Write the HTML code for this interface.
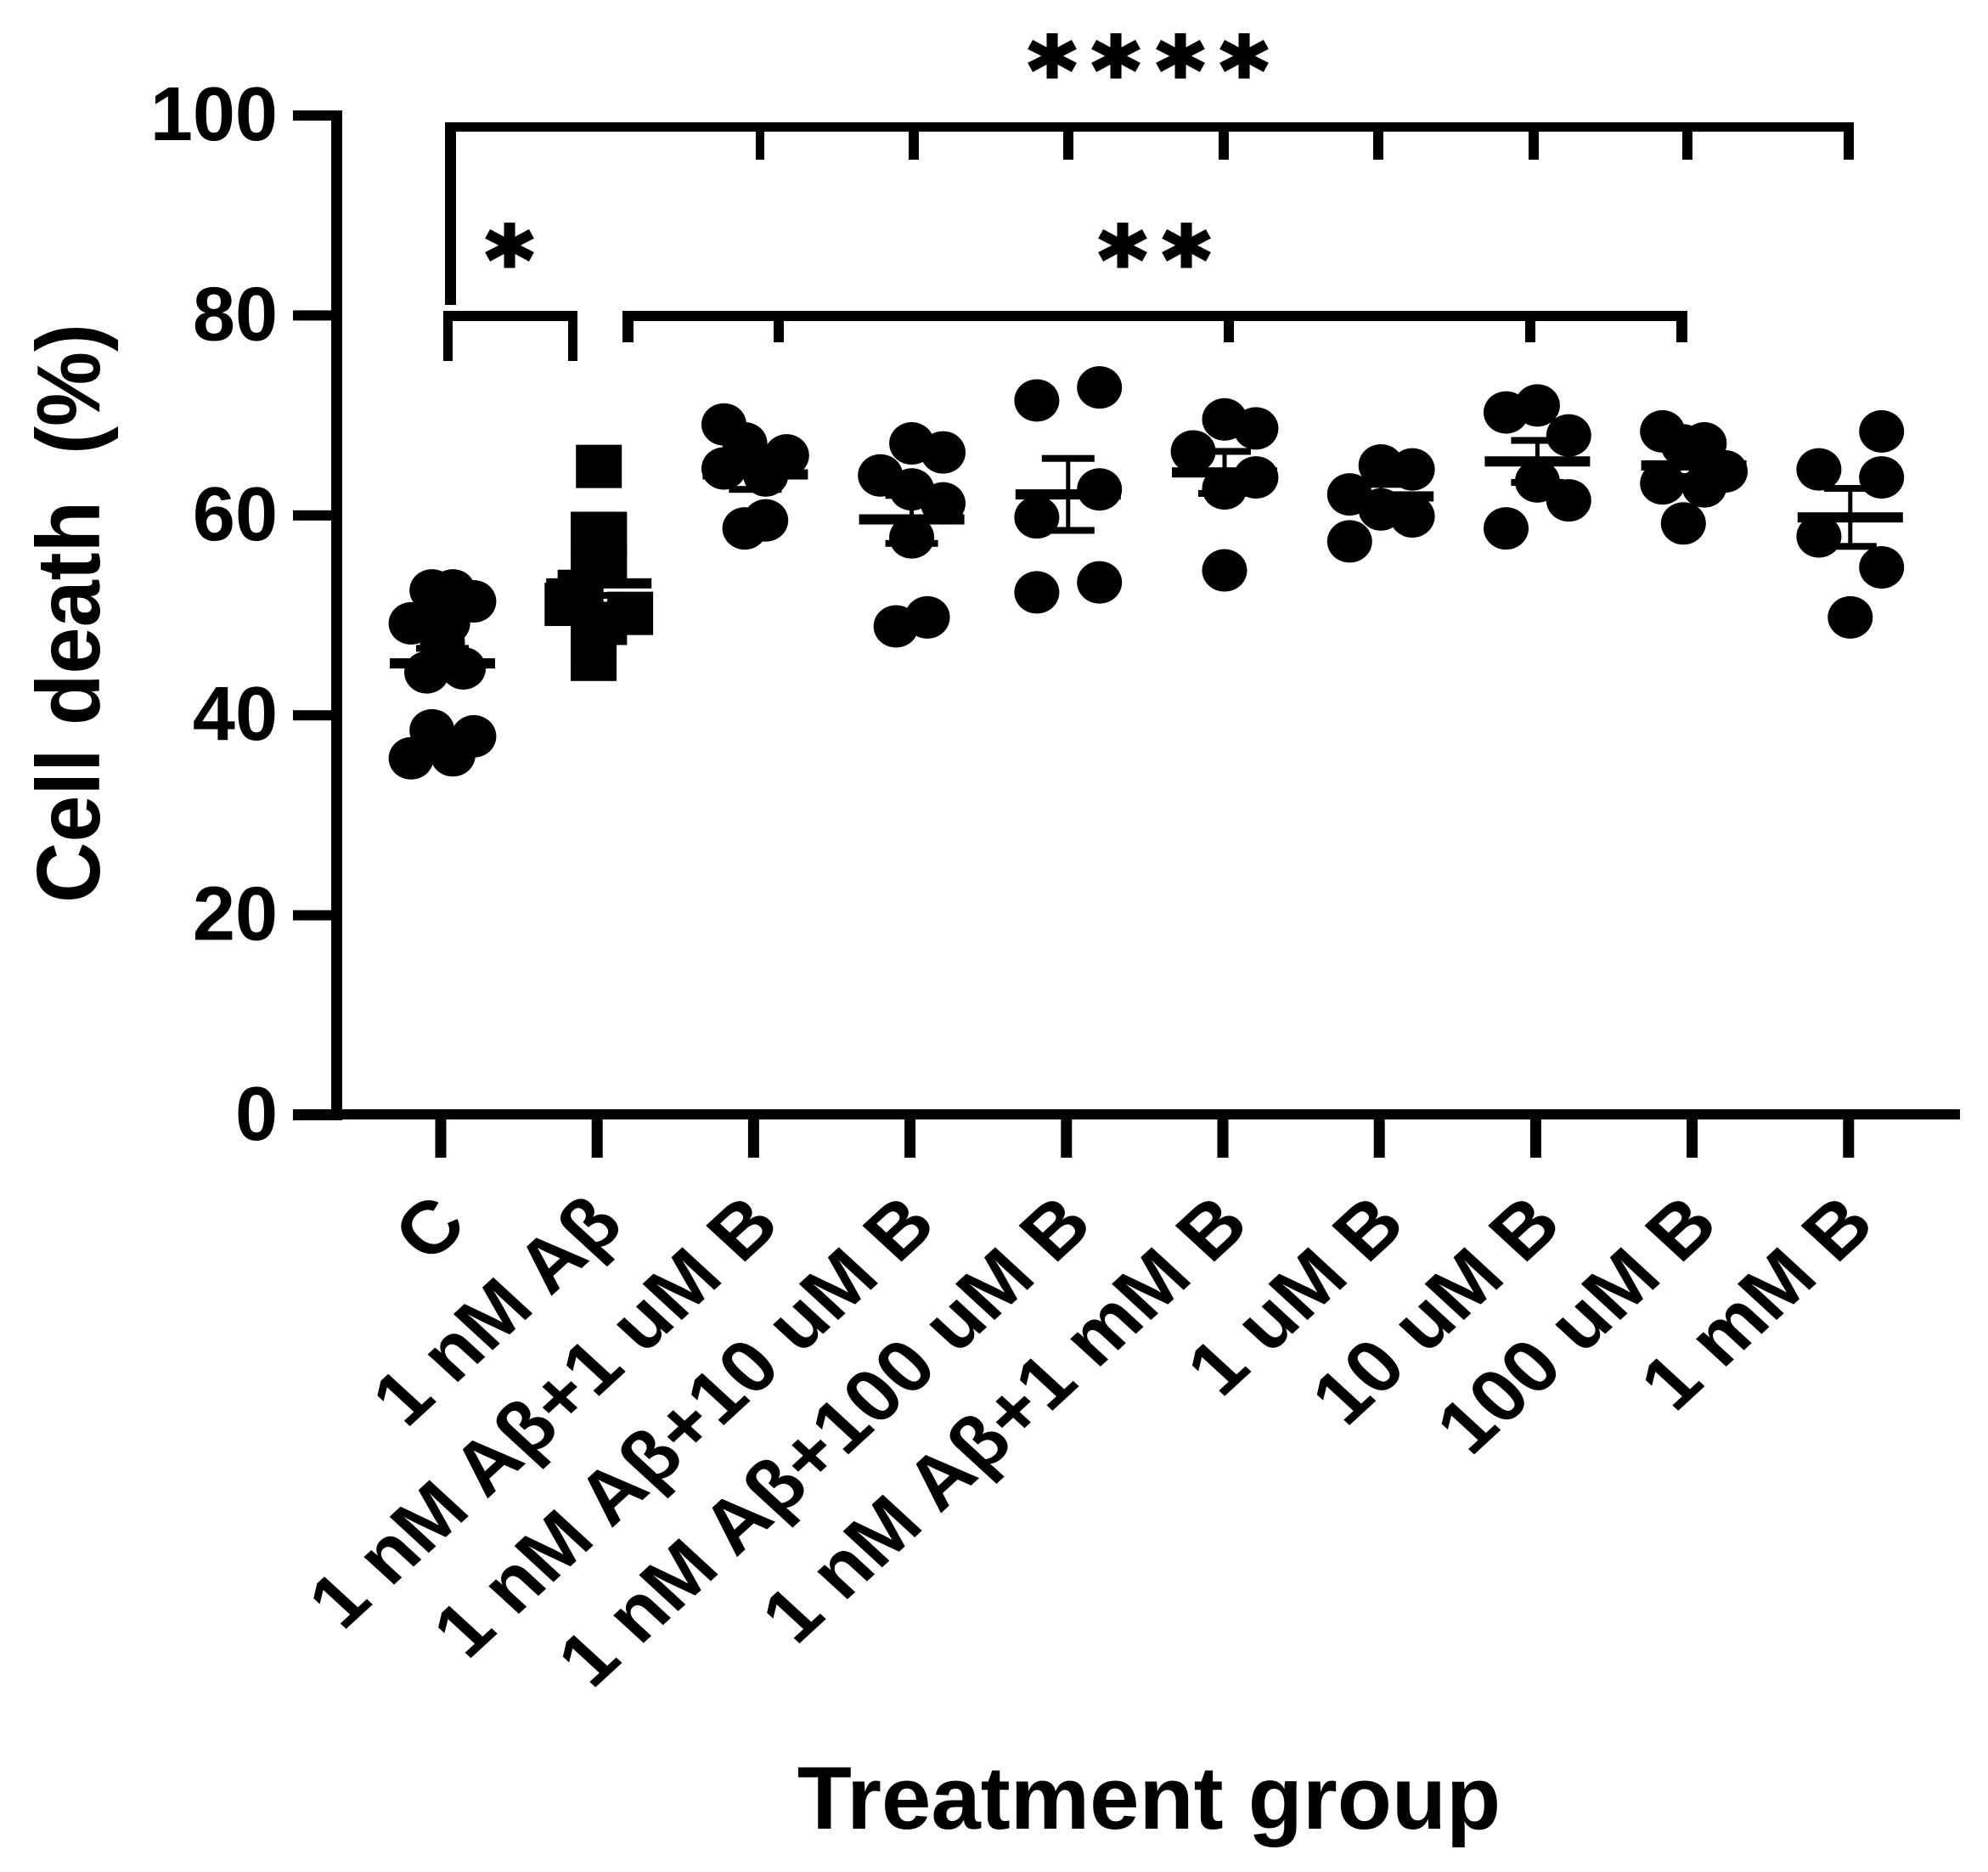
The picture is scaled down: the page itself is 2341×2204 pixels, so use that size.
<!DOCTYPE html>
<html lang="en">
<head>
<meta charset="utf-8">
<title>Cell death by treatment group</title>
<style>
html,body{margin:0;padding:0;background:#fff;width:2341px;height:2204px;overflow:hidden}
svg{display:block}
text{font-family:"Liberation Sans",Arial,sans-serif;font-weight:700;fill:#000}
.star{font-family:"DejaVu Sans",sans-serif;font-weight:700;font-size:106px;text-anchor:middle;stroke:#000;stroke-width:4px}
</style>
</head>
<body>
<svg id="chart" xmlns="http://www.w3.org/2000/svg" width="2341" height="2204" viewBox="0 0 2341 2204">
  <rect x="0" y="0" width="2341" height="2204" fill="#fff"/>
  <text transform="translate(117,722) rotate(-90) scale(1,1.07)" text-anchor="middle" font-size="99" xml:space="preserve" style="white-space:pre">Cell death  (%)</text>
  <text x="1353" y="2153" text-anchor="middle" font-size="105">Treatment group</text>

  <g fill="#000">
    <rect x="524" y="144" width="1659" height="11"/>
    <rect x="524" y="144" width="13" height="215"/>
    <rect x="890" y="150" width="10" height="38"/>
    <rect x="1070" y="150" width="12" height="38"/>
    <rect x="1252" y="150" width="12" height="38"/>
    <rect x="1435" y="150" width="12" height="38"/>
    <rect x="1617" y="150" width="12" height="38"/>
    <rect x="1800" y="150" width="12" height="38"/>
    <rect x="1981" y="150" width="12" height="38"/>
    <rect x="2171" y="144" width="12" height="44"/>
  </g>
  <g fill="#000">
    <rect x="522" y="366" width="158" height="12"/>
    <rect x="522" y="366" width="11" height="59"/>
    <rect x="669" y="366" width="11" height="59"/>
  </g>
  <g fill="#000">
    <rect x="733" y="366" width="1254" height="12"/>
    <rect x="733" y="366" width="13" height="37"/>
    <rect x="911" y="366" width="12" height="37"/>
    <rect x="1441" y="366" width="12" height="37"/>
    <rect x="1796" y="366" width="12" height="37"/>
    <rect x="1974" y="366" width="13" height="37"/>
  </g>
  <text class="star" transform="translate(600,343) scale(1.02,1)">*</text>
  <g>
    <text class="star" transform="translate(1322,343) scale(1.02,1)">*</text>
    <text class="star" transform="translate(1397,343) scale(1.02,1)">*</text>
  </g>
  <g>
    <text class="star" transform="translate(1239,120) scale(1.02,1)">*</text>
    <text class="star" transform="translate(1314,120) scale(1.02,1)">*</text>
    <text class="star" transform="translate(1390,120) scale(1.02,1)">*</text>
    <text class="star" transform="translate(1465,120) scale(1.02,1)">*</text>
  </g>

  <g id="axes"></g>
  <g id="marks"></g>
</svg>
<script>
const categories = ["C", "1 nM Aβ", "1 nM Aβ+1 uM B", "1 nM Aβ+10 uM B", "1 nM Aβ+100 uM B", "1 nM Aβ+1 mM B", "1 uM B", "10 uM B", "100 uM B", "1 mM B"];
const yTicks = [0, 20, 40, 60, 80, 100];

const valuesControl = [52.5, 52.5, 51.4, 49.2, 49.2, 47.3, 44.3, 44.7, 38.5, 37.9, 35.7, 36];
const slotsControl = [-2, 2, 6, -6, 1, 0, -3, 4, -2, 6, -6, 2];
const valuesAbeta = [64.9, 58.2, 58.2, 55, 55, 52.4, 51.1, 50.2, 49.2, 47.5, 45.6];
const slotsAbeta = [0, -1, 1, -1, 1, -3.5, -6, 6, 1, -1, -1];
const valuesAb1uM = [69.1, 67.2, 66, 64.7, 64, 59.5, 58.7];
const slotsAb1uM = [-6, -2, 6, -6, 2, 2, -2];
const valuesAb10uM = [67.2, 66.3, 64, 62.6, 61.2, 57.8, 49.8, 48.9];
const slotsAb10uM = [0, 6, -6, 0, 6, 0, 3, -3];
const valuesAb100uM = [71.5, 72.8, 62.6, 59.8, 52.3, 53.3];
const slotsAb100uM = [-6, 6, 6, -6, -6, 6];
const valuesAb1mM = [69.6, 68.7, 66.4, 63.8, 62.7, 54.5];
const slotsAb1mM = [0, 6, -6, 6, 0, 0];
const values1uM = [65, 64.6, 62.1, 60.6, 59.9, 57.4];
const slots1uM = [0, 6, -6, 0, 6, -6];
const values10uM = [70.3, 71, 68, 63.4, 61.5, 58.7];
const slots10uM = [-6, 0, 6, 0, 6, -6];
const values100uM = [68.4, 67.2, 67, 64.4, 63.2, 62.9, 59.2];
const slots100uM = [-6, 2, -2, 6, -6, 2, -2];
const values1mM = [68.4, 64.6, 63.8, 57.9, 54.8, 49.8];
const slots1mM = [6, -6, 6, -6, 6, 0];

const groupValues = [valuesControl, valuesAbeta, valuesAb1uM, valuesAb10uM, valuesAb100uM, valuesAb1mM, values1uM, values10uM, values100uM, values1mM];
const groupSlots = [slotsControl, slotsAbeta, slotsAb1uM, slotsAb10uM, slotsAb100uM, slotsAb1mM, slots1uM, slots10uM, slots100uM, slots1mM];
const means = [45.2, 53.2, 64.1, 59.6, 62.1, 64.3, 61.9, 65.4, 65, 59.8];
const sems = [1.5, 1.2, 1.5, 2.4, 3.6, 2.1, 1.2, 2.1, 1.1, 2.9];

const NS = "http://www.w3.org/2000/svg";
const xPos = i => 519 + 184.2 * i;
const markX = i => xPos(i) + 2;
const yPos = v => 1313 - (v / 100) * (1313 - 136);
const slotPx = s => s * 6.15;

function make(tag, attrs, parent) {
  const el = document.createElementNS(NS, tag);
  for (const k in attrs) el.setAttribute(k, attrs[k]);
  parent.appendChild(el);
  return el;
}

const axes = document.getElementById("axes");
const marks = document.getElementById("marks");

const yLine = make("rect", {x: 390, y: yPos(100) - 6, width: 13, height: yPos(0) - yPos(100) + 12, fill: "#000"}, axes);


const xLine = make("rect", {x: 345, y: yPos(0) - 7, width: 1963, height: 12, fill: "#000"}, axes);



yTicks.forEach(t => {
  const tick = make("rect", {x: 345, y: yPos(t) - 6, width: 50, height: 12, fill: "#000"}, axes);
  
  
  const label = make("text", {x: 327, y: yPos(t) + 29, "text-anchor": "end", "font-size": 90}, axes);
  
  
  label.textContent = t;
});

categories.forEach((c, i) => {
  const tick = make("rect", {x: xPos(i) - 6.5, y: yPos(0), width: 13, height: 50, fill: "#000"}, axes);
  
  
  const label = make("text", {
    transform: "translate(" + (xPos(i) + 34) + ",1445) scale(1,0.92) rotate(-45)",
    "text-anchor": "end",
    "font-size": 95
  }, axes);
  
  
  label.textContent = c;
});

groupValues.forEach((vals, g) => {
  const group = make("g", {}, marks);
  
  
  const cx = markX(g);
  vals.forEach((v, k) => {
    const px = cx + slotPx(groupSlots[g][k]);
    let mark;
    if (g === 1) {
      mark = make("rect", {x: px - 27, y: yPos(v) - 25.5, width: 54, height: 51, fill: "#000"}, group);
      
    } else {
      mark = make("ellipse", {cx: px, cy: yPos(v), rx: 26.5, ry: 25, fill: "#000"}, group);
      
    }
    
  });
  const meanLine = make("rect", {x: cx - 62, y: yPos(means[g]) - 6, width: 124, height: 12, fill: "#000"}, group);
  
  
  const up = yPos(means[g] + sems[g]);
  const lo = yPos(means[g] - sems[g]);
  const stem = make("rect", {x: cx - 2.5, y: up, width: 5, height: lo - up, fill: "#000"}, group);
  
  
  const capUp = make("rect", {x: cx - 31, y: up - 4, width: 62, height: 8, fill: "#000"}, group);
  
  
  const capLo = make("rect", {x: cx - 31, y: lo - 4, width: 62, height: 8, fill: "#000"}, group);
  
  
});
</script>
</body>
</html>
